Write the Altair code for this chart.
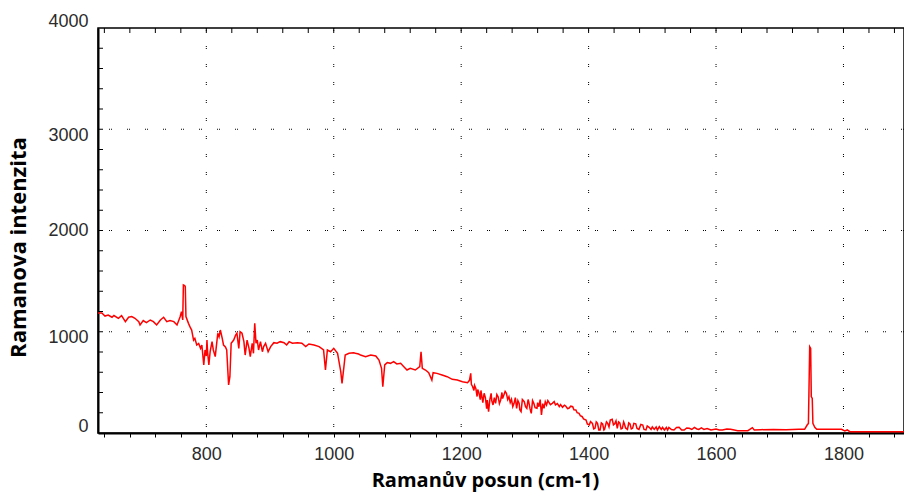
import altair as alt
import pandas as pd

# Spectrum readings as [Raman shift (cm-1), intensity], split by spectral region
region_low = [
    [630, 1185], [636, 1185], [641, 1155], [646, 1165], [652, 1143], [655, 1160],
    [662, 1133], [667, 1159], [673, 1100], [678, 1143], [683, 1150], [688, 1133],
    [694, 1100], [696, 1067], [701, 1110], [706, 1090], [712, 1116], [717, 1100],
    [722, 1067], [728, 1116], [733, 1143], [738, 1100], [743, 1110], [749, 1100],
    [754, 1067], [757, 1116], [759, 1150], [761, 1198], [763, 1116], [764, 1462],
    [766, 1455], [767, 1445], [768, 1150], [772, 1083], [775, 1040], [777, 1017],
    [780, 918], [782, 935], [785, 869], [788, 885], [791, 836], [793, 869],
    [796, 672], [798, 820], [800, 760], [801, 918], [802, 800], [804, 672],
    [806, 803], [809, 902], [811, 820], [814, 754], [818, 985], [820, 950],
    [822, 1017], [825, 935], [827, 869], [830, 850], [832, 820], [835, 474],
    [837, 556], [839, 886], [843, 918], [846, 968], [848, 985], [851, 836],
    [853, 1000], [856, 985], [859, 902], [861, 770], [864, 918], [867, 836],
    [869, 754], [872, 886], [874, 787], [876, 1083], [878, 886], [880, 918],
    [882, 820], [885, 902], [888, 803], [890, 853], [893, 886], [897, 803],
    [901, 853], [906, 892], [911, 886], [916, 902], [922, 892], [926, 869],
    [930, 902], [935, 886], [943, 892], [950, 886], [956, 853], [961, 879],
    [969, 869], [977, 853], [984, 820], [987, 622], [990, 820], [995, 803],
    [1000, 836], [1006, 787], [1011, 606], [1013, 490], [1016, 655], [1018, 770],
]
region_mid = [
    [1024, 787], [1031, 793], [1034, 787], [1039, 780], [1042, 770], [1050, 754],
    [1058, 770], [1066, 760], [1071, 721], [1075, 639], [1077, 457], [1080, 672],
    [1084, 695], [1089, 688], [1094, 705], [1099, 682], [1105, 688], [1110, 655],
    [1115, 622], [1120, 639], [1128, 622], [1135, 655], [1137, 803], [1139, 639],
    [1144, 622], [1149, 596], [1154, 523], [1156, 596], [1162, 589], [1170, 573],
    [1178, 556], [1186, 530], [1194, 523], [1202, 507], [1210, 497], [1213, 520],
    [1215, 589], [1216, 480], [1218, 457], [1220, 420], [1221, 470], [1223, 441],
    [1225, 360], [1226, 430], [1228, 392], [1230, 330], [1231, 420], [1233, 342],
    [1234, 300], [1236, 392], [1238, 350], [1240, 240], [1241, 326], [1243, 211],
    [1245, 330], [1247, 392], [1248, 320], [1250, 277], [1252, 350], [1254, 293],
    [1256, 380], [1258, 359], [1260, 290], [1262, 326], [1264, 400], [1265, 340],
    [1267, 375], [1269, 410], [1271, 392], [1273, 330], [1275, 359], [1277, 300],
    [1279, 333], [1281, 260], [1283, 293], [1285, 350], [1287, 244], [1289, 320],
    [1291, 293], [1292, 230], [1294, 211], [1296, 330], [1299, 309], [1301, 260],
    [1303, 244], [1305, 330], [1306, 309], [1308, 240], [1310, 194], [1312, 320],
    [1314, 293], [1316, 250], [1319, 244], [1320, 300], [1322, 260], [1324, 330],
    [1326, 178], [1328, 290], [1330, 244], [1332, 310], [1334, 277], [1336, 320],
    [1338, 300], [1340, 280], [1343, 293], [1346, 310], [1348, 277], [1351, 290],
    [1354, 260], [1356, 280], [1359, 254], [1362, 275], [1364, 267], [1367, 240],
    [1369, 244], [1372, 265], [1375, 260], [1377, 230], [1380, 227], [1382, 200],
    [1385, 194], [1387, 170], [1390, 161], [1392, 140], [1396, 128], [1398, 90],
    [1401, 79], [1403, 112],
]
region_high = [
    [1406, 95], [1408, 40], [1410, 46], [1412, 110], [1414, 95], [1416, 30],
    [1418, 30], [1420, 100], [1422, 90], [1424, 30], [1425, 36], [1428, 110],
    [1430, 95], [1432, 60], [1434, 128], [1437, 135], [1439, 80], [1441, 90],
    [1443, 120], [1445, 46], [1447, 110], [1449, 100], [1451, 40], [1453, 46],
    [1455, 110], [1456, 95], [1458, 50], [1461, 36], [1463, 100], [1465, 90],
    [1467, 40], [1469, 46], [1471, 95], [1474, 90], [1476, 45], [1479, 36],
    [1482, 85], [1485, 79], [1487, 35], [1490, 30], [1492, 70], [1495, 56],
    [1498, 35], [1500, 60], [1503, 36], [1506, 60], [1508, 30], [1511, 62],
    [1514, 35], [1516, 55], [1519, 30], [1522, 55], [1524, 30], [1526, 56],
    [1530, 35], [1534, 30], [1538, 55], [1542, 56], [1546, 30], [1550, 30],
    [1554, 50], [1558, 46], [1562, 35], [1566, 56], [1570, 40], [1573, 36],
    [1577, 50], [1581, 36], [1586, 45], [1592, 30], [1600, 40], [1605, 30],
    [1610, 30], [1617, 40], [1623, 36], [1634, 23], [1650, 23], [1657, 53],
    [1660, 30], [1670, 33], [1690, 35], [1710, 33], [1730, 36], [1739, 36],
    [1743, 79], [1745, 95], [1747, 852], [1748.5, 836], [1749.5, 359], [1751, 342],
    [1752, 95], [1755, 56], [1758, 36], [1780, 36], [1797, 36], [1802, 20],
    [1806, 30], [1810, 13], [1850, 13], [1895, 13],
]

# Dotted grid positions and axis tick values
grid_x = [800, 1000, 1200, 1400, 1600, 1800]
grid_y = [1000, 2000, 3000]
x_ticks = list(range(640, 1895, 40))
y_ticks = [0, 1000, 2000, 3000, 4000]
y_minor = list(range(200, 4000, 200))

spectrum = pd.DataFrame(
    region_low + region_mid + region_high, columns=["shift", "intensity"]
)

x_scale = alt.Scale(domain=[630, 1895], nice=False, zero=False)
y_scale = alt.Scale(domain=[0, 4000], nice=False)

label_font = "Liberation Sans"
title_font = "Open Sans"

x_axis = alt.Axis(
    values=x_ticks,
    labelExpr="datum.value % 200 == 0 ? datum.value : ''",
    grid=False,
    domainColor="black",
    domainWidth=2,
    tickColor="black",
    tickSize=4,
    labelPadding=8,
    labelFont=label_font,
    labelFontSize=18,
    labelColor="#2b2b2b",
    title="Ramanův posun (cm-1)",
    titleFont=title_font,
    titleFontSize=20,
    titleFontWeight="bold",
    titleColor="black",
    titleX=387,
    titleY=47,
    titleBaseline="middle",
)

y_axis = alt.Axis(
    values=y_ticks,
    format="d",
    grid=False,
    ticks=False,
    domainColor="black",
    domainWidth=2,
    labelPadding=10,
    labelFont=label_font,
    labelFontSize=18,
    labelColor="#2b2b2b",
    labelOffset={
        "condition": [
            {"test": "datum.value == 0 || datum.value == 4000", "value": -7},
            {"test": "datum.value == 2000", "value": 0},
        ],
        "value": 6,
    },
    title="Ramanova intenzita",
    titleFont=title_font,
    titleFontSize=22,
    titleFontWeight="bold",
    titleColor="black",
    titleAngle=270,
    titleAlign="center",
    titleBaseline="middle",
    titleX=-80,
    titleY=219,
)

dots = [1, 1, 1, 15]

vgrid = alt.Chart(pd.DataFrame({"g": grid_x})).mark_rule(
    color="black", strokeWidth=1, strokeDash=dots
).encode(x=alt.X("g:Q", scale=x_scale, axis=x_axis))

hgrid = alt.Chart(pd.DataFrame({"g": grid_y})).mark_rule(
    color="black", strokeWidth=1, strokeDash=dots
).encode(y=alt.Y("g:Q", scale=y_scale, axis=y_axis))

# small inward ticks along the left edge and the top edge
left_ticks = alt.Chart(pd.DataFrame({"t": y_minor})).mark_rule(
    color="black", strokeWidth=1
).encode(y=alt.Y("t:Q", scale=y_scale, axis=y_axis), x=alt.value(0), x2=alt.value(5))

top_ticks = alt.Chart(pd.DataFrame({"t": x_ticks})).mark_rule(
    color="black", strokeWidth=1
).encode(x=alt.X("t:Q", scale=x_scale, axis=x_axis), y=alt.value(0), y2=alt.value(5))

line = alt.Chart(spectrum).mark_line(
    color="#ff0000", strokeWidth=1.5, clip=True, strokeJoin="miter"
).encode(
    x=alt.X("shift:Q", scale=x_scale, axis=x_axis),
    y=alt.Y("intensity:Q", scale=y_scale, axis=y_axis),
)

chart = (
    alt.layer(vgrid, hgrid, left_ticks, top_ticks, line)
    .properties(
        width=806,
        height=405,
        padding={"left": 98, "top": 28, "right": 0, "bottom": 60},
        autosize=alt.AutoSizeParams(type="none"),
        background="white",
    )
    .configure_view(stroke="black", strokeWidth=1.5)
)

chart.save("out.html", embed_options={"renderer": "svg", "actions": False})
